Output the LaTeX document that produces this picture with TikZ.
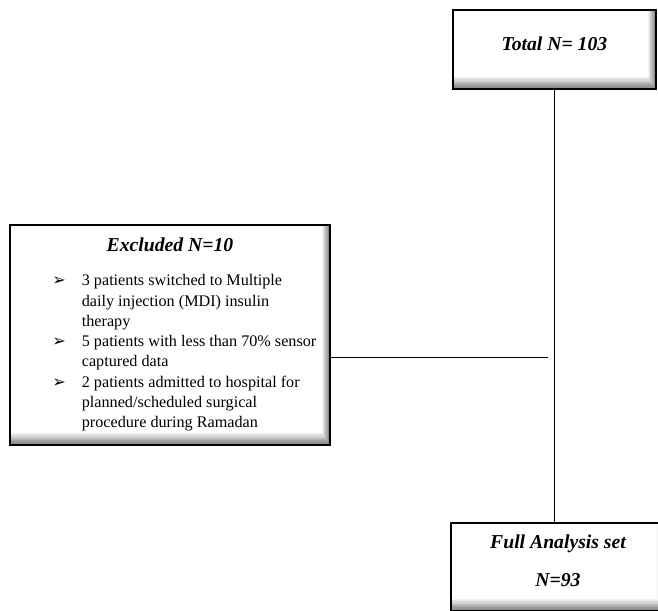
\documentclass[tikz,border=0pt]{standalone}
\usepackage{fontspec}
\setmainfont{Liberation Serif}
\newfontfamily\symfont{DejaVu Sans}
\usetikzlibrary{positioning}

\tikzset{
  flowbox/.style={draw=black, line width=1pt, fill=white, rectangle,
    path picture={
      \foreach \k [evaluate=\k as \tone using 5*\k] in {1,...,10}{
        \fill[black!\tone] ([yshift={(10-\k)*0.03cm}]path picture bounding box.south west)
          rectangle ([yshift={(11-\k)*0.03cm}]path picture bounding box.south east);
        \fill[black!\tone] ([xshift={-(11-\k)*0.02cm}]path picture bounding box.north east)
          rectangle ([xshift={-(10-\k)*0.02cm}]path picture bounding box.south east);
      }
    }},
  boxtitle/.style={font=\fontsize{14}{16}\selectfont\bfseries\itshape},
  link/.style={draw=black, line width=0.6pt}
}

\newcommand{\arrowbul}{{\symfont ➢}}

\begin{document}
\begin{tikzpicture}
\useasboundingbox (0,0) rectangle (16.45,15.275);
%\draw[step=0.5cm,gray,very thin] (0,0) grid (17,15);

\node[flowbox, minimum width=5.075cm, minimum height=1.975cm] (total) at (13.8625,14.0375) {};
\node[boxtitle] (totaltext) at (13.86,14.17) {Total N= 103};

%%%%%%%%%%%%%%%%%%%%%%%%%%%%%%%%%%%%%%%%
\node[flowbox, minimum width=8cm, minimum height=5.5cm] (excluded) at (4.25,6.9) {};

\node[boxtitle] (exctitle) at (4.25,9.15) {Excluded N=10};

\node[anchor=base west, inner sep=0pt, font=\fontsize{11.5}{14.4}\selectfont] (exclist) at (1.3,8.125) {%
\begin{tabular}[t]{@{}p{0.74cm}@{}l@{}}
\arrowbul & 3 patients switched to Multiple\\
 & daily injection (MDI) insulin\\
 & therapy\\
\arrowbul & 5 patients with less than 70\% sensor\\
 & captured data\\
\arrowbul & 2 patients admitted to hospital for\\
 & planned/scheduled surgical\\
 & procedure during Ramadan
\end{tabular}};

%%%%%%%%%%%%%%%%%%%%%%%%%%%%%%%%%%%%%%%%
\node[flowbox, minimum width=5.35cm, minimum height=2.2cm] (full) at (13.95,1.1) {};
\node[boxtitle] (fulltext) at (13.95,1.675) {Full Analysis set};
\node[boxtitle] (fulln) at (13.95,0.775) {N=93};

%connectors
\coordinate (join) at (13.7,6.34);
\draw[link] (total.south) -- (total.south |- full.north);
\draw[link] (excluded.east |- join) -- (join);

\end{tikzpicture}
\end{document}
